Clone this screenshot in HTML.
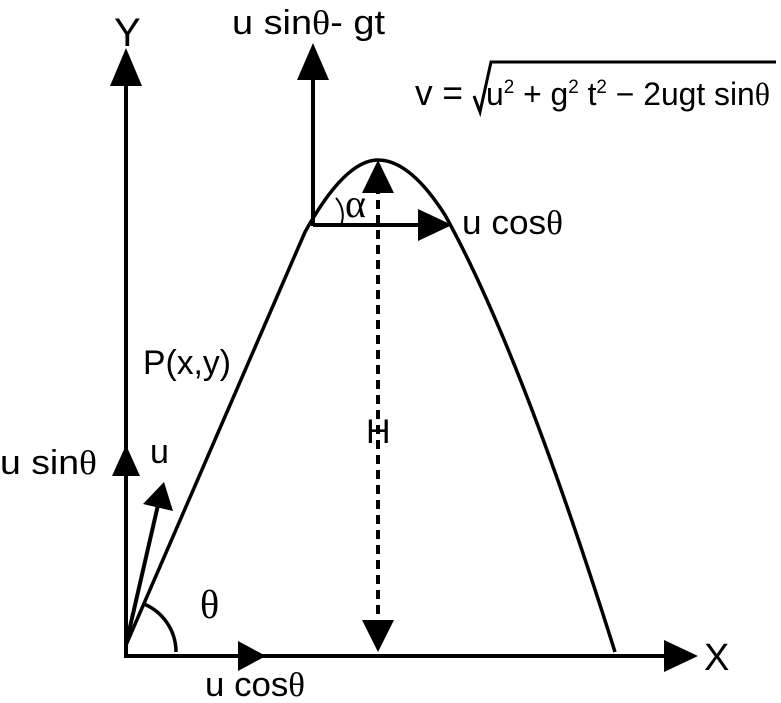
<!DOCTYPE html>
<html><head><style>
body{margin:0;background:#fff;}
svg{display:block}
.s{font-family:"Liberation Sans","DejaVu Sans",sans-serif;fill:#000}
.r{font-family:"Liberation Serif","DejaVu Serif",serif}
</style></head><body>
<svg width="781" height="703" viewBox="0 0 781 703">
<g stroke="#000" stroke-width="4" fill="none">
<line x1="126" y1="658" x2="126" y2="80"/>
<line x1="124" y1="656" x2="670" y2="656"/>
<line x1="313" y1="226" x2="313" y2="78"/>
<line x1="313" y1="225" x2="425" y2="225"/>
<line x1="127" y1="640" x2="158" y2="505"/>
<line x1="378" y1="185" x2="378" y2="625" stroke-dasharray="9,6"/>
<path d="M126,645 L305,232 Q345,160 378,160 Q410,160 445,215 Q520,350 615,652" stroke-width="3.5"/>
<path d="M144,604 A52,52 0 0 1 176,652" stroke-width="3.5"/>
<path d="M336,198 A26,26 0 0 1 341,225" stroke-width="2"/>
<polyline points="474,96 480,112 491,62 776,62" stroke-width="3"/>
</g>
<g fill="#000">
<polygon points="126,48 110,86 142,86"/>
<polygon points="698,656 664,640 664,672"/>
<polygon points="313,43 297,80 329,80"/>
<polygon points="452,225 418,209 418,241"/>
<polygon points="378,160 362,193 394,193"/>
<polygon points="378,652 362,620 394,620"/>
<polygon points="126,445 112,476 140,476"/>
<polygon points="266,656 238,641 238,671"/>
<polygon points="164,482 143,504 173,511"/>
</g>
<g class="s">
<text x="114" y="46" style="font-size:40px">Y</text>
<text x="704" y="670" style="font-size:38px">X</text>
<text x="232" y="34" style="font-size:34px" textLength="153" lengthAdjust="spacingAndGlyphs">u sin<tspan class="r">θ</tspan>- gt</text>
<text x="415" y="105" style="font-size:36px" textLength="48" lengthAdjust="spacingAndGlyphs">v =</text>
<text x="486" y="105" style="font-size:32px" textLength="284" lengthAdjust="spacingAndGlyphs">u<tspan style="font-size:19px" dy="-12">2</tspan><tspan dy="12"> +  g</tspan><tspan style="font-size:19px" dy="-12">2</tspan><tspan dy="12"> t</tspan><tspan style="font-size:19px" dy="-12">2</tspan><tspan dy="12"> − 2ugt sin</tspan><tspan class="r">θ</tspan></text>
<text x="462" y="234" style="font-size:34px" textLength="101" lengthAdjust="spacingAndGlyphs">u cos<tspan class="r">θ</tspan></text>
<text x="345" y="217" class="r" style="font-size:40px">α</text>
<text x="143" y="374" style="font-size:34px" textLength="88" lengthAdjust="spacingAndGlyphs">P(x,y)</text>
<text x="366" y="443" style="font-size:34px">H</text>
<text x="0" y="474" style="font-size:34px" textLength="97" lengthAdjust="spacingAndGlyphs">u sin<tspan class="r">θ</tspan></text>
<text x="150" y="463" style="font-size:34px">u</text>
<text x="200" y="618" class="r" style="font-size:40px">θ</text>
<text x="205" y="696" style="font-size:34px" textLength="100" lengthAdjust="spacingAndGlyphs">u cos<tspan class="r">θ</tspan></text>
</g>
</svg>
</body></html>
